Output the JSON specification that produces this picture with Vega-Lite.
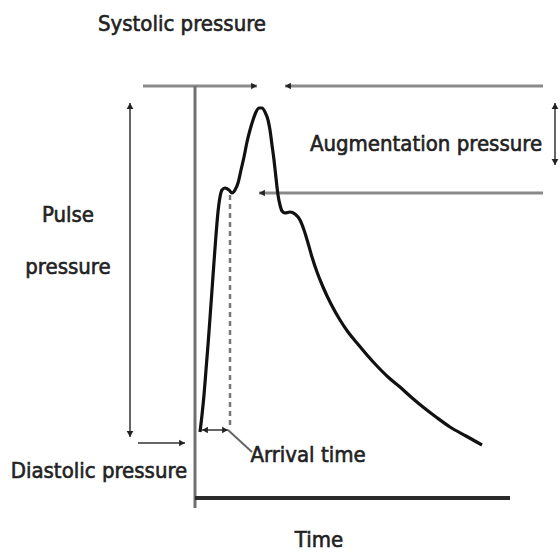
{
  "$schema": "https://vega.github.io/schema/vega-lite/v6.json",
  "width": 560,
  "height": 559,
  "autosize": {"type": "fit", "contains": "padding"},
  "padding": 0,
  "background": "white",
  "config": {"view": {"stroke": null}},
  "datasets": {
    "curve": [
      {"x":200,"y":432},{"x":202,"y":415},{"x":204,"y":395},{"x":206,"y":370},{"x":208,"y":345},{"x":210,"y":318},{"x":212,"y":290},{"x":214,"y":262},{"x":216,"y":235},{"x":218,"y":212},{"x":220,"y":197},{"x":222,"y":190},{"x":225,"y":188},{"x":229,"y":190},{"x":232,"y":193},{"x":235,"y":190},{"x":238,"y":183},{"x":241,"y":170},{"x":244,"y":157},{"x":247,"y":142},{"x":250,"y":130},{"x":253,"y":120},{"x":256,"y":112},{"x":259,"y":108},{"x":262,"y":108},{"x":265,"y":112},{"x":268,"y":120},{"x":270,"y":130},{"x":272,"y":145},{"x":274,"y":160},{"x":276,"y":178},{"x":278,"y":195},{"x":280,"y":205},{"x":282,"y":211},{"x":285,"y":213},{"x":290,"y":212},{"x":295,"y":214},{"x":300,"y":220},{"x":304,"y":230},{"x":308,"y":243},{"x":312,"y":257},{"x":317,"y":272},{"x":323,"y":287},{"x":331,"y":304},{"x":340,"y":320},{"x":348,"y":332},{"x":357,"y":343},{"x":367,"y":355},{"x":377,"y":366},{"x":388,"y":377},{"x":400,"y":387},{"x":411,"y":397},{"x":423,"y":407},{"x":436,"y":417},{"x":450,"y":427},{"x":466,"y":436},{"x":482,"y":445}
    ],
    "segments": [
      {"kind":"axis","x":195,"y":86,"x2":195,"y2":508},
      {"kind":"baseline","x":195,"y":498,"x2":510,"y2":498},
      {"kind":"ref","x":143,"y":86,"x2":257,"y2":86},
      {"kind":"ref","x":285,"y":86,"x2":543,"y2":86},
      {"kind":"ref","x":259,"y":193,"x2":543,"y2":193},
      {"kind":"arrow","x":130,"y":103,"x2":130,"y2":437},
      {"kind":"arrow","x":555,"y":103,"x2":555,"y2":165},
      {"kind":"arrow","x":138,"y":443,"x2":185,"y2":443},
      {"kind":"arrow","x":202,"y":430,"x2":228,"y2":430},
      {"kind":"arrow","x":228,"y":430,"x2":252,"y2":452},
      {"kind":"dashed","x":230,"y":195,"x2":230,"y2":425}
    ],
    "heads": [
      {"x":130,"y":106,"dir":"triangle-up"},
      {"x":130,"y":434,"dir":"triangle-down"},
      {"x":555,"y":106,"dir":"triangle-up"},
      {"x":555,"y":162,"dir":"triangle-down"},
      {"x":182,"y":443,"dir":"triangle-right"},
      {"x":254,"y":86,"dir":"triangle-right"},
      {"x":288,"y":86,"dir":"triangle-left"},
      {"x":262,"y":193,"dir":"triangle-left"},
      {"x":205,"y":430,"dir":"triangle-left"},
      {"x":225,"y":430,"dir":"triangle-right"}
    ],
    "labels": [
      {"x":182,"y":24,"text":"Systolic pressure"},
      {"x":426,"y":144,"text":"Augmentation pressure"},
      {"x":68,"y":215,"text":"Pulse"},
      {"x":68,"y":267,"text":"pressure"},
      {"x":99,"y":471,"text":"Diastolic pressure"},
      {"x":308,"y":455,"text":"Arrival time"},
      {"x":319,"y":540,"text":"Time"}
    ]
  },
  "layer": [
    {
      "data": {"name": "segments"},
      "transform": [{"filter": "datum.kind === 'ref'"}],
      "mark": {"type": "rule", "stroke": "#8a8a8a", "strokeWidth": 3},
      "encoding": {
        "x": {"field": "x", "type": "quantitative", "scale": {"domain": [0, 560], "nice": false, "zero": false}, "axis": null},
        "y": {"field": "y", "type": "quantitative", "scale": {"domain": [0, 559], "nice": false, "zero": false, "reverse": true}, "axis": null},
        "x2": {"field": "x2"},
        "y2": {"field": "y2"}
      }
    },
    {
      "data": {"name": "segments"},
      "transform": [{"filter": "datum.kind === 'arrow'"}],
      "mark": {"type": "rule", "stroke": "#666666", "strokeWidth": 2},
      "encoding": {
        "x": {"field": "x", "type": "quantitative", "axis": null},
        "y": {"field": "y", "type": "quantitative", "axis": null},
        "x2": {"field": "x2"},
        "y2": {"field": "y2"}
      }
    },
    {
      "data": {"name": "segments"},
      "transform": [{"filter": "datum.kind === 'dashed'"}],
      "mark": {"type": "rule", "stroke": "#777777", "strokeWidth": 2.5, "strokeDash": [5, 4]},
      "encoding": {
        "x": {"field": "x", "type": "quantitative", "axis": null},
        "y": {"field": "y", "type": "quantitative", "axis": null},
        "x2": {"field": "x2"},
        "y2": {"field": "y2"}
      }
    },
    {
      "data": {"name": "segments"},
      "transform": [{"filter": "datum.kind === 'axis'"}],
      "mark": {"type": "rule", "stroke": "#707070", "strokeWidth": 3},
      "encoding": {
        "x": {"field": "x", "type": "quantitative", "axis": null},
        "y": {"field": "y", "type": "quantitative", "axis": null},
        "x2": {"field": "x2"},
        "y2": {"field": "y2"}
      }
    },
    {
      "data": {"name": "segments"},
      "transform": [{"filter": "datum.kind === 'baseline'"}],
      "mark": {"type": "rule", "stroke": "#2a2a2a", "strokeWidth": 4},
      "encoding": {
        "x": {"field": "x", "type": "quantitative", "axis": null},
        "y": {"field": "y", "type": "quantitative", "axis": null},
        "x2": {"field": "x2"},
        "y2": {"field": "y2"}
      }
    },
    {
      "data": {"name": "curve"},
      "mark": {"type": "line", "stroke": "#111111", "strokeWidth": 3.2, "interpolate": "monotone"},
      "encoding": {
        "x": {"field": "x", "type": "quantitative", "axis": null},
        "y": {"field": "y", "type": "quantitative", "axis": null}
      }
    },
    {
      "data": {"name": "heads"},
      "mark": {"type": "point", "filled": true, "fill": "#222222", "size": 45, "opacity": 1},
      "encoding": {
        "x": {"field": "x", "type": "quantitative", "axis": null},
        "y": {"field": "y", "type": "quantitative", "axis": null},
        "shape": {"field": "dir", "type": "nominal", "scale": null, "legend": null}
      }
    },
    {
      "data": {"name": "labels"},
      "mark": {"type": "text", "font": "DejaVu Sans Condensed", "fontSize": 22, "fill": "#222222", "stroke": "#222222", "strokeWidth": 0.6, "align": "center", "baseline": "middle"},
      "encoding": {
        "x": {"field": "x", "type": "quantitative", "axis": null},
        "y": {"field": "y", "type": "quantitative", "axis": null},
        "text": {"field": "text", "type": "nominal"}
      }
    }
  ]
}
